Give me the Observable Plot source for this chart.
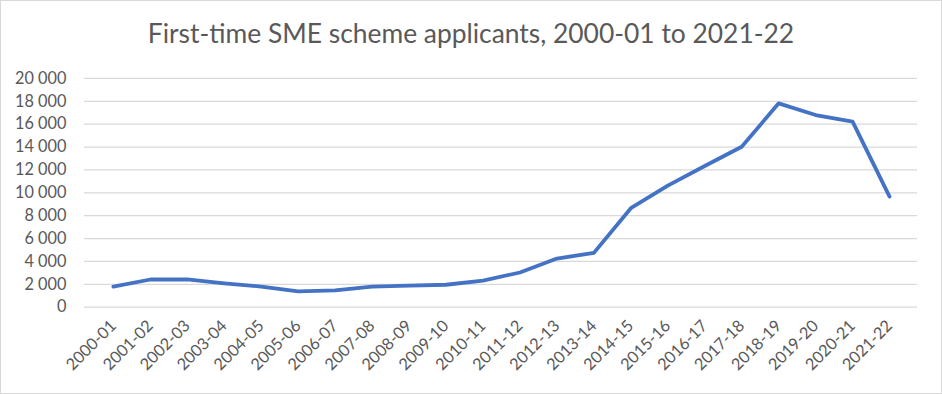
<!DOCTYPE html>
<html>
<head>
<meta charset="utf-8">
<script src="https://cdn.jsdelivr.net/npm/d3@7"></script>
<script src="https://cdn.jsdelivr.net/npm/@observablehq/plot@0.6"></script>
<style>
  html, body { margin: 0; padding: 0; background: #fff; }
  #wrap { position: relative; width: 942px; height: 394px; box-sizing: border-box; border: 1px solid #d9d9d9; overflow: hidden; font-family: Lato, "Open Sans", sans-serif; }
  #title { position: absolute; left: 0; right: 0; top: 16px; text-align: center; font-size: 26.4px; color: #595959; white-space: nowrap; }
  #chart { position: absolute; left: -1px; top: -1px; }
</style>
</head>
<body>
<div id="wrap">
  <div id="title">First-time SME scheme applicants, 2000-01 to 2021-22</div>
  <div id="chart"></div>
</div>
<script>
const years = ["2000-01","2001-02","2002-03","2003-04","2004-05","2005-06","2006-07","2007-08","2008-09","2009-10","2010-11","2011-12","2012-13","2013-14","2014-15","2015-16","2016-17","2017-18","2018-19","2019-20","2020-21","2021-22"];
const applicants = [1800, 2420, 2430, 2080, 1800, 1380, 1460, 1800, 1880, 1960, 2330, 3030, 4250, 4750, 8650, 10630, 12340, 14030, 17820, 16800, 16220, 9670];
const yTicks = [0, 2000, 4000, 6000, 8000, 10000, 12000, 14000, 16000, 18000, 20000];

const data = years.map((y, i) => ({year: y, value: applicants[i]}));
const fmt = d => d3.format(",")(d).replace(/,/g, " ");

const chart = Plot.plot({
  width: 942,
  height: 394,
  marginTop: 78,
  marginBottom: 87,
  marginLeft: 84,
  marginRight: 24,
  style: {fontFamily: "Lato, 'Open Sans', sans-serif", fontSize: "16px", color: "#595959", background: "transparent"},
  x: {type: "point", domain: years, padding: 0.5, label: null},
  y: {domain: [0, 20000], label: null},
  marks: [
    Plot.gridY(yTicks, {stroke: "#d9d9d9", strokeOpacity: 1, strokeWidth: 1.3}),
    Plot.axisY(yTicks, {tickSize: 0, tickPadding: 18, tickFormat: fmt, fontSize: 16.3, fill: "#595959", label: null}),
    Plot.axisX({tickSize: 0, tickPadding: 16, tickRotate: -45, fontSize: 16.3, fill: "#595959", label: null}),
    Plot.line(data, {x: "year", y: "value", stroke: "#4472c4", strokeWidth: 3.8, strokeLinejoin: "round", strokeLinecap: "round"})
  ]
});
document.getElementById("chart").appendChild(chart);
</script>
</body>
</html>
